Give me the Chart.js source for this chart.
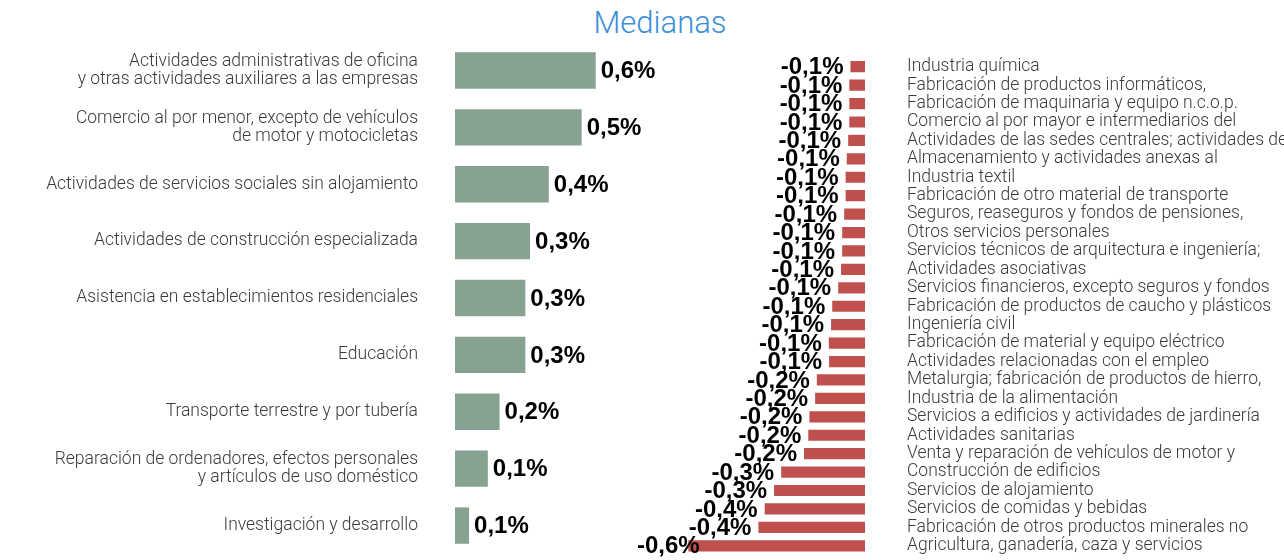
<!DOCTYPE html>
<html>
<head>
<meta charset="utf-8">
<script src="https://cdn.jsdelivr.net/npm/chart.js@4.4.1/dist/chart.umd.min.js"></script>
<style>
    body { margin: 0; background: #fff; width: 1284px; height: 560px; overflow: hidden; position: relative; }
    #title { position: absolute; left: 560px; top: 4px; width: 200px; text-align: center;
        font-family: Roboto, 'Liberation Sans', sans-serif; font-weight: 300; font-size: 31px; line-height: 38px; color: #3a8fd8; }
    #left-chart { position: absolute; left: 0; top: 0; }
    #right-chart { position: absolute; left: 637px; top: 0; }
</style>
</head>
<body>
<div id="title">Medianas</div>
<canvas id="left-chart" width="720" height="560"></canvas>
<canvas id="right-chart" width="647" height="560"></canvas>
<script>
// sectores con subida de la mediana
const leftLabels = [
    ['Actividades administrativas de oficina', 'y otras actividades auxiliares a las empresas'],
    ['Comercio al por menor, excepto de vehículos', 'de motor y motocicletas'],
    'Actividades de servicios sociales sin alojamiento',
    'Actividades de construcción especializada',
    'Asistencia en establecimientos residenciales',
    'Educación',
    'Transporte terrestre y por tubería',
    ['Reparación de ordenadores, efectos personales', 'y artículos de uso doméstico'],
    'Investigación y desarrollo'
];
const leftValues = [0.60, 0.54, 0.40, 0.32, 0.30, 0.30, 0.19, 0.14, 0.06];

// sectores con bajada de la mediana
const rightLabels = [
    'Industria química',
    'Fabricación de productos informáticos,',
    'Fabricación de maquinaria y equipo n.c.o.p.',
    'Comercio al por mayor e intermediarios del',
    'Actividades de las sedes centrales; actividades de',
    'Almacenamiento y actividades anexas al',
    'Industria textil',
    'Fabricación de otro material de transporte',
    'Seguros, reaseguros y fondos de pensiones,',
    'Otros servicios personales',
    'Servicios técnicos de arquitectura e ingeniería;',
    'Actividades asociativas',
    'Servicios financieros, excepto seguros y fondos',
    'Fabricación de productos de caucho y plásticos',
    'Ingeniería civil',
    'Fabricación de material y equipo eléctrico',
    'Actividades relacionadas con el empleo',
    'Metalurgia; fabricación de productos de hierro,',
    'Industria de la alimentación',
    'Servicios a edificios y actividades de jardinería',
    'Actividades sanitarias',
    'Venta y reparación de vehículos de motor y',
    'Construcción de edificios',
    'Servicios de alojamiento',
    'Servicios de comidas y bebidas',
    'Fabricación de otros productos minerales no',
    'Agricultura, ganadería, caza y servicios'
];
const rightValues = [-0.051, -0.055, -0.055, -0.055, -0.059, -0.064, -0.068, -0.068, -0.073,
    -0.080, -0.080, -0.084, -0.094, -0.115, -0.119, -0.127, -0.126, -0.169, -0.175,
    -0.195, -0.199, -0.214, -0.294, -0.319, -0.352, -0.374, -0.62];

const labelFamily = "Roboto, 'Liberation Sans', sans-serif";

// etiquetas de valor junto a cada barra
const valueLabels = {
    id: 'valueLabels',
    afterDatasetsDraw(chart, args, opts) {
        const ctx = chart.ctx;
        const meta = chart.getDatasetMeta(0);
        const values = chart.data.datasets[0].data;
        ctx.save();
        ctx.font = opts.labelFont;
        ctx.fillStyle = '#000';
        ctx.textBaseline = 'middle';
        ctx.textAlign = 'left';
        meta.data.forEach((bar, i) => {
            const txt = values[i].toFixed(1).replace('.', ',') + '%';
            const w = ctx.measureText(txt).width;
            let x = opts.side === 'right' ? bar.x + opts.gap : bar.x - opts.gap - w;
            if (x < chart.chartArea.left) x = chart.chartArea.left;
            ctx.fillText(txt, x, bar.y + 1);
        });
        ctx.restore();
    }
};

// el eje de categorías no debe reservar margen arriba/abajo
function fixAxis(width) {
    return (s) => {
        s.width = width;
        s.paddingTop = 0;
        s.paddingBottom = 0;
    };
}

new Chart(document.getElementById('left-chart'), {
    type: 'bar',
    data: {
        labels: leftLabels,
        datasets: [{
            data: leftValues,
            backgroundColor: '#87a291',
            barPercentage: 0.8,
            categoryPercentage: 0.8
        }]
    },
    options: {
        indexAxis: 'y',
        responsive: false,
        animation: false,
        layout: { padding: { top: 42, bottom: 6 } },
        plugins: {
            legend: { display: false },
            tooltip: { enabled: false },
            valueLabels: { side: 'right', gap: 5, labelFont: 'bold 24px "Liberation Sans", Arial, sans-serif' }
        },
        scales: {
            x: { display: false, min: 0, max: 1.13 },
            y: {
                grid: { display: false },
                border: { display: false },
                afterFit: fixAxis(455),
                ticks: {
                    padding: 29,
                    color: '#3a3a3a',
                    autoSkip: false,
                    font: { family: labelFamily, size: 17.5, weight: 300, lineHeight: 1.05 }
                }
            }
        }
    },
    plugins: [valueLabels]
});

new Chart(document.getElementById('right-chart'), {
    type: 'bar',
    data: {
        labels: rightLabels,
        datasets: [{
            data: rightValues,
            backgroundColor: '#c0504d',
            barPercentage: 0.78,
            categoryPercentage: 0.78
        }]
    },
    options: {
        indexAxis: 'y',
        responsive: false,
        animation: false,
        layout: { padding: { top: 57.5, bottom: 5 } },
        plugins: {
            legend: { display: false },
            tooltip: { enabled: false },
            valueLabels: { side: 'left', gap: 7, labelFont: 'bold 24px "Liberation Sans", Arial, sans-serif' }
        },
        scales: {
            x: { display: false, min: -0.8, max: 0 },
            y: {
                position: 'right',
                grid: { display: false },
                border: { display: false },
                afterFit: fixAxis(419),
                ticks: {
                    padding: 34,
                    color: '#3a3a3a',
                    autoSkip: false,
                    font: { family: labelFamily, size: 17.5, weight: 300 }
                }
            }
        }
    },
    plugins: [valueLabels]
});
</script>
</body>
</html>
